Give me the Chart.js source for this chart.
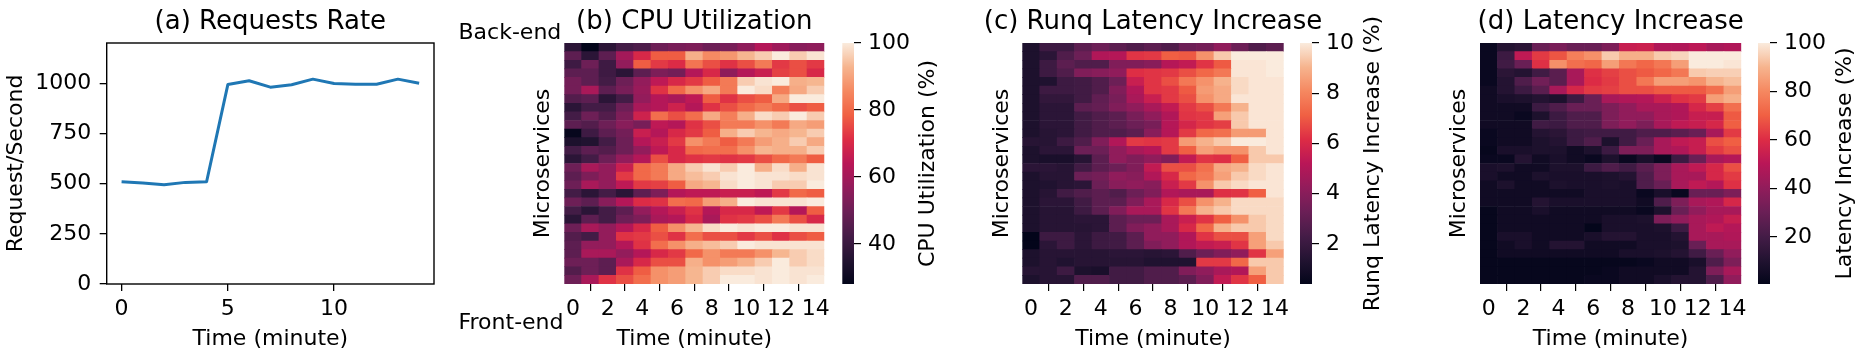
<!DOCTYPE html>
<html>
<head>
<meta charset="utf-8">
<script src="https://cdn.jsdelivr.net/npm/chart.js@4.4.1/dist/chart.umd.min.js"></script>
<style>
  html, body { margin: 0; padding: 0; background: #fff; overflow: hidden; }
  #wrap { position: relative; width: 1860px; height: 351px; }
  canvas { position: absolute; top: 0; }
</style>
</head>
<body>
<div id="wrap">
  <canvas id="lineChart" width="455" height="351" style="left:0px"></canvas>
  <canvas id="heatCpu" width="380" height="351" style="left:455px"></canvas>
  <canvas id="barCpu" width="120" height="351" style="left:835px"></canvas>
  <canvas id="heatRunq" width="380" height="351" style="left:955px"></canvas>
  <canvas id="barRunq" width="120" height="351" style="left:1292px"></canvas>
  <canvas id="heatLat" width="345" height="351" style="left:1412px"></canvas>
  <canvas id="barLat" width="110" height="351" style="left:1750px"></canvas>
</div>
<script>
// (a) request rate
const minutes = [0, 1, 2, 3, 4, 5, 6, 7, 8, 9, 10, 11, 12, 13, 14];
const requestRate = [509, 503, 494, 506, 509, 993, 1012, 980, 992, 1020, 998, 995, 995, 1020, 1000];
const lineTicksX = [0, 5, 10];
const lineTicksY = [0, 250, 500, 750, 1000];

// heatmaps: 28 microservices (back-end at top) x 15 minutes
const heatTicksX = [0, 2, 4, 6, 8, 10, 12, 14];

const cpuUtil = [
  [37, 28, 37, 42, 44, 50, 52, 53, 50, 52, 56, 63, 59, 55, 56],
  [47, 37, 47, 60, 70, 78, 78, 92, 86, 88, 93, 96, 100, 96, 99],
  [41, 50, 41, 57, 78, 73, 71, 82, 76, 72, 76, 83, 73, 76, 73],
  [47, 47, 41, 37, 47, 53, 51, 63, 70, 56, 63, 67, 74, 76, 70],
  [51, 47, 42, 50, 57, 65, 70, 73, 78, 83, 96, 99, 100, 92, 93],
  [51, 61, 47, 52, 58, 72, 80, 87, 91, 83, 100, 98, 84, 91, 96],
  [45, 47, 37, 42, 57, 63, 61, 65, 78, 72, 76, 78, 91, 100, 100],
  [37, 42, 42, 50, 61, 63, 68, 63, 72, 76, 80, 83, 80, 76, 78],
  [42, 50, 45, 53, 68, 81, 76, 81, 91, 84, 92, 98, 96, 100, 96],
  [47, 45, 50, 55, 52, 65, 63, 72, 76, 83, 83, 87, 83, 91, 89],
  [29, 41, 47, 51, 67, 63, 70, 73, 78, 92, 96, 93, 91, 93, 96],
  [34, 35, 42, 50, 63, 67, 73, 87, 83, 78, 83, 89, 92, 96, 91],
  [42, 47, 45, 50, 57, 65, 70, 80, 81, 81, 87, 93, 92, 92, 96],
  [37, 42, 50, 57, 63, 76, 70, 72, 73, 72, 73, 76, 80, 83, 78],
  [50, 61, 57, 67, 80, 83, 91, 96, 99, 96, 100, 92, 98, 92, 99],
  [47, 53, 57, 73, 80, 83, 91, 94, 96, 99, 100, 99, 99, 98, 99],
  [50, 61, 57, 65, 73, 74, 78, 91, 93, 98, 100, 99, 96, 96, 100],
  [42, 37, 42, 37, 47, 53, 63, 65, 65, 67, 67, 65, 73, 80, 78],
  [50, 47, 55, 63, 71, 72, 81, 80, 89, 92, 100, 99, 99, 99, 100],
  [42, 37, 42, 47, 57, 63, 67, 72, 63, 70, 70, 65, 73, 63, 78],
  [37, 47, 42, 50, 53, 61, 63, 70, 61, 72, 73, 76, 83, 76, 70],
  [50, 61, 57, 63, 70, 78, 87, 93, 98, 100, 99, 100, 100, 99, 99],
  [45, 42, 57, 72, 73, 76, 72, 81, 76, 76, 73, 76, 72, 76, 78],
  [47, 57, 57, 63, 72, 81, 87, 92, 94, 96, 100, 99, 99, 99, 99],
  [47, 61, 61, 57, 63, 70, 73, 80, 87, 83, 83, 87, 93, 96, 98],
  [50, 50, 47, 61, 70, 76, 76, 92, 87, 89, 92, 96, 100, 96, 98],
  [45, 50, 47, 72, 78, 87, 89, 93, 96, 98, 98, 99, 100, 99, 99],
  [50, 61, 72, 76, 81, 87, 89, 93, 96, 100, 100, 99, 100, 99, 100]
];

const runqLatency = [
  [1.2, 2.1, 2.1, 2.9, 3.3, 2.9, 2.6, 2.9, 2.6, 3.3, 3.5, 4.2, 3.3, 2.6, 2.9],
  [1.2, 1.6, 2.6, 3.3, 5.0, 5.1, 6.3, 6.4, 7.1, 7.0, 8.3, 9.4, 10, 10, 10],
  [1.2, 2.1, 2.9, 2.6, 2.6, 3.8, 3.8, 4.0, 5.1, 5.4, 6.3, 7.0, 9.9, 9.9, 10],
  [1.2, 2.1, 2.6, 3.8, 4.0, 4.2, 6.2, 6.3, 6.4, 6.8, 7.3, 7.7, 9.9, 9.9, 10],
  [1.2, 1.3, 2.1, 2.2, 2.6, 3.3, 5.6, 6.3, 6.8, 7.7, 8.3, 9.0, 9.7, 9.9, 9.9],
  [1.2, 2.1, 2.1, 2.2, 2.6, 3.8, 5.0, 6.3, 6.4, 7.0, 8.5, 8.8, 9.7, 9.9, 9.9],
  [1.2, 1.8, 1.8, 2.2, 3.0, 3.6, 4.8, 5.6, 6.4, 6.8, 8.3, 8.8, 9.9, 9.9, 9.9],
  [1.2, 1.6, 1.6, 2.9, 3.1, 3.8, 4.2, 4.8, 5.4, 6.4, 6.8, 7.7, 9.0, 9.9, 9.9],
  [1.2, 1.6, 1.6, 2.2, 2.6, 2.9, 3.6, 4.2, 5.0, 6.3, 6.4, 8.6, 9.4, 9.9, 9.9],
  [1.2, 1.6, 1.6, 2.2, 2.6, 2.9, 3.3, 3.6, 5.1, 5.9, 6.3, 6.5, 9.4, 9.9, 9.9],
  [1.2, 1.5, 1.6, 2.2, 2.6, 2.6, 2.9, 4.0, 5.1, 6.4, 7.3, 7.5, 8.5, 8.5, 9.9],
  [1.5, 1.5, 2.1, 2.6, 3.8, 5.0, 6.4, 6.3, 6.4, 8.5, 9.0, 9.4, 10, 10, 9.9],
  [1.2, 1.6, 1.6, 3.3, 3.3, 4.2, 4.8, 5.1, 6.4, 7.1, 8.6, 8.3, 8.3, 9.4, 9.9],
  [1.2, 1.1, 1.1, 1.5, 2.9, 4.2, 3.8, 4.2, 3.8, 5.4, 6.3, 6.2, 7.1, 9.4, 9.4],
  [1.6, 1.6, 1.5, 2.2, 2.9, 3.3, 3.8, 5.4, 6.8, 6.8, 7.5, 8.8, 9.0, 9.7, 9.9],
  [1.2, 1.5, 1.5, 3.3, 3.5, 4.2, 4.0, 5.0, 6.0, 7.3, 7.7, 8.6, 9.4, 9.7, 9.9],
  [1.2, 1.3, 1.5, 1.6, 3.3, 4.0, 4.2, 4.0, 5.6, 6.4, 8.3, 9.4, 9.7, 9.9, 9.9],
  [1.2, 1.5, 2.2, 2.6, 2.9, 2.6, 3.3, 3.8, 5.0, 4.8, 4.8, 6.2, 6.3, 7.1, 9.9],
  [1.2, 1.6, 1.6, 2.2, 2.9, 2.9, 3.8, 4.8, 6.0, 6.8, 8.3, 9.0, 9.7, 9.7, 9.7],
  [1.2, 1.5, 1.5, 2.1, 2.9, 3.8, 4.8, 4.8, 6.3, 7.7, 9.0, 9.4, 9.7, 9.7, 9.7],
  [1.2, 1.5, 1.5, 1.6, 1.6, 2.9, 3.3, 3.3, 4.8, 5.6, 6.3, 7.1, 8.3, 9.4, 9.7],
  [1.2, 1.5, 1.5, 1.5, 1.6, 2.9, 3.8, 4.2, 4.8, 6.0, 7.3, 9.0, 9.4, 9.4, 9.7],
  [0.4, 2.1, 2.1, 1.6, 2.1, 2.2, 2.9, 4.2, 4.2, 5.0, 6.3, 6.8, 6.8, 8.6, 9.7],
  [0.4, 1.6, 2.1, 1.6, 2.1, 2.2, 2.9, 3.8, 4.2, 5.0, 5.4, 5.6, 6.3, 8.6, 9.4],
  [1.2, 1.5, 1.5, 1.5, 1.5, 1.6, 1.6, 1.5, 1.6, 2.6, 3.3, 3.8, 4.2, 6.3, 8.6],
  [1.2, 1.5, 1.3, 1.5, 1.5, 1.5, 1.5, 1.3, 1.3, 1.3, 6.4, 6.4, 7.3, 9.4, 9.4],
  [1.5, 1.5, 2.1, 1.2, 1.1, 2.2, 2.2, 2.6, 2.6, 3.8, 4.2, 4.8, 5.0, 8.6, 9.4],
  [1.2, 1.5, 1.5, 2.6, 2.6, 2.2, 2.2, 2.6, 2.6, 2.9, 3.8, 5.4, 6.3, 7.1, 9.4]
];

const latencyIncrease = [
  [3, 11, 13, 30, 34, 30, 30, 35, 54, 55, 48, 48, 51, 46, 48],
  [3, 18, 52, 63, 68, 78, 82, 94, 89, 89, 94, 96, 100, 100, 100],
  [3, 19, 30, 61, 82, 74, 72, 85, 76, 72, 76, 85, 100, 100, 99],
  [3, 13, 11, 19, 26, 46, 61, 64, 67, 69, 72, 76, 94, 95, 95],
  [3, 11, 23, 32, 26, 46, 60, 63, 67, 76, 85, 85, 83, 90, 92],
  [5, 11, 18, 26, 46, 58, 63, 64, 67, 67, 69, 69, 69, 74, 85],
  [5, 8, 9, 11, 9, 18, 30, 46, 48, 49, 55, 61, 63, 85, 89],
  [5, 5, 5, 18, 23, 30, 30, 35, 40, 46, 46, 48, 58, 64, 74],
  [5, 5, 3, 9, 18, 23, 23, 35, 40, 40, 46, 48, 54, 54, 69],
  [5, 5, 5, 19, 18, 23, 23, 35, 40, 35, 46, 52, 54, 58, 70],
  [3, 5, 5, 11, 13, 18, 19, 19, 19, 23, 23, 26, 30, 46, 63],
  [3, 5, 5, 9, 11, 18, 23, 9, 19, 30, 46, 52, 54, 67, 70],
  [2, 8, 8, 9, 9, 5, 9, 18, 35, 35, 46, 48, 54, 63, 67],
  [3, 3, 11, 5, 8, 5, 3, 9, 3, 8, 3, 18, 30, 46, 49],
  [8, 9, 5, 5, 9, 9, 18, 23, 19, 26, 35, 46, 52, 58, 67],
  [8, 5, 5, 9, 8, 8, 8, 9, 11, 23, 35, 46, 46, 58, 63],
  [5, 9, 5, 5, 9, 8, 8, 9, 8, 23, 30, 46, 52, 49, 61],
  [5, 5, 5, 5, 5, 5, 8, 8, 8, 3, 8, 3, 30, 30, 35],
  [5, 5, 5, 11, 8, 8, 8, 8, 8, 5, 23, 35, 46, 48, 58],
  [2, 5, 5, 8, 5, 5, 5, 5, 5, 3, 9, 30, 40, 46, 46],
  [2, 5, 5, 5, 5, 5, 5, 8, 8, 9, 35, 40, 46, 48, 54],
  [2, 5, 5, 5, 5, 5, 1, 8, 8, 8, 9, 18, 46, 52, 49],
  [2, 8, 8, 5, 5, 5, 8, 11, 11, 8, 8, 11, 46, 46, 48],
  [2, 5, 8, 5, 11, 11, 5, 5, 5, 8, 8, 9, 30, 46, 46],
  [2, 5, 5, 5, 5, 5, 5, 5, 8, 8, 9, 11, 19, 30, 40],
  [2, 2, 2, 2, 2, 2, 2, 2, 2, 3, 5, 5, 8, 23, 35],
  [2, 2, 2, 2, 2, 2, 2, 3, 5, 5, 5, 5, 11, 35, 46],
  [2, 2, 2, 2, 2, 2, 3, 3, 5, 5, 8, 11, 11, 23, 40]
];

// colour bar ranges and ticks
const cpuRange = [28, 100];
const cpuTicks = [40, 60, 80, 100];
const runqRange = [0.4, 10];
const runqTicks = [2, 4, 6, 8, 10];
const latRange = [0.6, 100];
const latTicks = [20, 40, 60, 80, 100];

// rocket-like colormap
const rocketStops = ['#03051A', '#221331', '#451C47', '#6B1F56', '#921C5B', '#B91657',
  '#DD2C45', '#F06043', '#F58860', '#F6B48E', '#FAEBDD'];

function hexRgb(h) {
  return [parseInt(h.slice(1, 3), 16), parseInt(h.slice(3, 5), 16), parseInt(h.slice(5, 7), 16)];
}
function rocket(t) {
  t = Math.max(0, Math.min(1, t));
  const p = t * (rocketStops.length - 1);
  const i = Math.min(Math.floor(p), rocketStops.length - 2);
  const f = p - i;
  const a = hexRgb(rocketStops[i]), b = hexRgb(rocketStops[i + 1]);
  const c = a.map((v, k) => Math.round(v + (b[k] - v) * f));
  return `rgb(${c[0]},${c[1]},${c[2]})`;
}

Chart.defaults.font.family = '"DejaVu Sans"';
Chart.defaults.font.size = 22;
Chart.defaults.color = '#000';
Chart.defaults.animation = false;
Chart.defaults.plugins.legend.display = false;
Chart.defaults.plugins.tooltip.enabled = false;

const textPlugin = {
  id: 'texts',
  afterDraw(chart, args, opts) {
    const ctx = chart.ctx, a = chart.chartArea;
    (opts.items || []).forEach(t => {
      ctx.save();
      ctx.font = (t.size || 22) + 'px "DejaVu Sans"';
      ctx.fillStyle = '#000';
      ctx.textAlign = t.align || 'center';
      ctx.textBaseline = 'middle';
      const x = t.x === 'mid' ? (a.left + a.right) / 2 : t.x;
      const y = t.y === 'mid' ? (a.top + a.bottom) / 2 : t.y;
      ctx.translate(x, y);
      if (t.rot) ctx.rotate(t.rot);
      ctx.fillText(t.text, 0, 0);
      ctx.restore();
    });
  }
};

const framePlugin = {
  id: 'frame',
  afterDraw(chart, args, opts) {
    if (!opts.show) return;
    const ctx = chart.ctx, a = chart.chartArea;
    ctx.save();
    ctx.strokeStyle = '#000';
    ctx.lineWidth = 1.4;
    ctx.strokeRect(a.left, a.top, a.right - a.left, a.bottom - a.top);
    ctx.restore();
  }
};

const tickGrid = { display: true, drawOnChartArea: false, drawTicks: true, tickLength: 7, color: '#000', lineWidth: 1.3 };
const plainNum = v => String(v);

// (a) line chart
new Chart(document.getElementById('lineChart'), {
  type: 'line',
  data: {
    datasets: [{
      data: minutes.map((m, i) => ({ x: m, y: requestRate[i] })),
      borderColor: '#1f77b4',
      borderWidth: 3,
      pointRadius: 0,
      tension: 0,
      borderJoinStyle: 'round'
    }]
  },
  options: {
    responsive: false,
    layout: { padding: { left: 0, top: 43, right: 21, bottom: 0 } },
    scales: {
      x: {
        type: 'linear', min: -0.7, max: 14.7,
        afterBuildTicks: s => { s.ticks = lineTicksX.map(v => ({ value: v })); },
        afterFit: s => { s.height = 67; },
        ticks: { padding: 5, maxRotation: 0, autoSkip: false, callback: plainNum },
        grid: tickGrid,
        border: { display: false },
        title: { display: true, text: 'Time (minute)', font: { size: 22, lineHeight: 1 }, padding: { top: 0, bottom: 1 } }
      },
      y: {
        min: 0, max: 1200,
        afterBuildTicks: s => { s.ticks = lineTicksY.map(v => ({ value: v })); },
        afterFit: s => { s.width = 106.7; },
        ticks: { padding: 8.5, callback: plainNum },
        grid: tickGrid,
        border: { display: false },
        title: { display: true, text: 'Request/Second', font: { size: 22, lineHeight: 1 }, padding: { top: 5, bottom: 0 } }
      }
    },
    plugins: {
      frame: { show: true },
      texts: { items: [{ text: '(a) Requests Rate', x: 'mid', y: 22, size: 26 }] }
    }
  },
  plugins: [framePlugin, textPlugin]
});

function cellsFrom(rows) {
  const out = [];
  rows.forEach((row, r) => row.forEach((v, c) => out.push({ x: c, y: [r, r + 1], v: v })));
  return out;
}

function heatmap(id, rows, range, geom, title, extra) {
  const cells = cellsFrom(rows);
  new Chart(document.getElementById(id), {
    type: 'bar',
    data: {
      datasets: [{
        data: cells,
        grouped: false,
        barPercentage: 1, categoryPercentage: 1,
        borderWidth: 0,
        backgroundColor: ctx => ctx.raw ? rocket((ctx.raw.v - range[0]) / (range[1] - range[0])) : '#000'
      }, {
        data: cells,
        grouped: false,
        barPercentage: 1, categoryPercentage: 1,
        borderWidth: 0.5,
        borderSkipped: false,
        inflateAmount: 0,
        borderColor: 'rgba(255,255,255,0.25)',
        backgroundColor: 'rgba(0,0,0,0)'
      }]
    },
    options: {
      responsive: false,
      layout: { padding: { left: 0, top: 43, right: geom.right, bottom: 0 } },
      scales: {
        x: {
          type: 'linear', min: -0.5, max: 14.5, offset: false,
          afterBuildTicks: s => { s.ticks = heatTicksX.map(v => ({ value: v })); },
          afterFit: s => { s.height = 67; },
          ticks: { padding: 5, maxRotation: 0, autoSkip: false, callback: plainNum },
          grid: Object.assign({}, tickGrid, { lineWidth: 1.2 }),
          border: { display: false },
          title: { display: true, text: 'Time (minute)', font: { size: 22, lineHeight: 1 }, padding: { top: 0, bottom: 1 } }
        },
        y: {
          type: 'linear', min: 0, max: rows.length, reverse: true,
          afterFit: s => { s.width = geom.left; },
          ticks: { display: false },
          grid: { display: false },
          border: { display: false },
          title: { display: true, text: 'Microservices', font: { size: 22, lineHeight: 1 }, padding: { top: geom.ylab - 11, bottom: 0 } }
        }
      },
      plugins: {
        texts: { items: [{ text: title, x: 'mid', y: 22, size: 26 }].concat(extra || []) }
      }
    },
    plugins: [textPlugin]
  });
}

function colorbar(id, range, ticks, geom, label) {
  new Chart(document.getElementById(id), {
    type: 'bar',
    data: {
      labels: [''],
      datasets: [{
        data: [[range[0], range[1]]],
        barPercentage: 1, categoryPercentage: 1,
        borderWidth: 0,
        backgroundColor: ctx => {
          const a = ctx.chart.chartArea;
          if (!a) return '#000';
          const g = ctx.chart.ctx.createLinearGradient(0, a.bottom, 0, a.top);
          for (let i = 0; i <= 40; i++) g.addColorStop(i / 40, rocket(i / 40));
          return g;
        }
      }]
    },
    options: {
      responsive: false,
      layout: { padding: { left: geom.left, top: 43, right: 0, bottom: 67 } },
      scales: {
        x: { display: false },
        y: {
          position: 'right', min: range[0], max: range[1],
          afterBuildTicks: s => { s.ticks = ticks.map(v => ({ value: v })); },
          afterFit: s => { s.width = geom.axis; },
          ticks: { padding: 7, callback: plainNum },
          grid: Object.assign({}, tickGrid, { lineWidth: 1.2 }),
          border: { display: false }
        }
      },
      plugins: {
        texts: { items: [{ text: label, x: geom.lab, y: 'mid', rot: -Math.PI / 2 }] }
      }
    },
    plugins: [textPlugin]
  });
}

heatmap('heatCpu', cpuUtil, cpuRange, { left: 109.3, right: 9, ylab: 88 }, '(b) CPU Utilization', [
  { text: 'Back-end', x: 3.5, y: 33.4, align: 'left' },
  { text: 'Front-end', x: 3.5, y: 323.4, align: 'left' }
]);
colorbar('barCpu', cpuRange, cpuTicks, { left: 7.3, axis: 101, lab: 93 }, 'CPU Utilization (%)');

heatmap('heatRunq', runqLatency, runqRange, { left: 67.3, right: 51.3, ylab: 47 }, '(c) Runq Latency Increase');
colorbar('barRunq', runqRange, runqTicks, { left: 8, axis: 100, lab: 81 }, 'Runq Latency Increase (%)');

heatmap('heatLat', latencyIncrease, latRange, { left: 68, right: 15.7, ylab: 47 }, '(d) Latency Increase');
colorbar('barLat', latRange, latTicks, { left: 8, axis: 90, lab: 95 }, 'Latency Increase (%)');
</script>
</body>
</html>
